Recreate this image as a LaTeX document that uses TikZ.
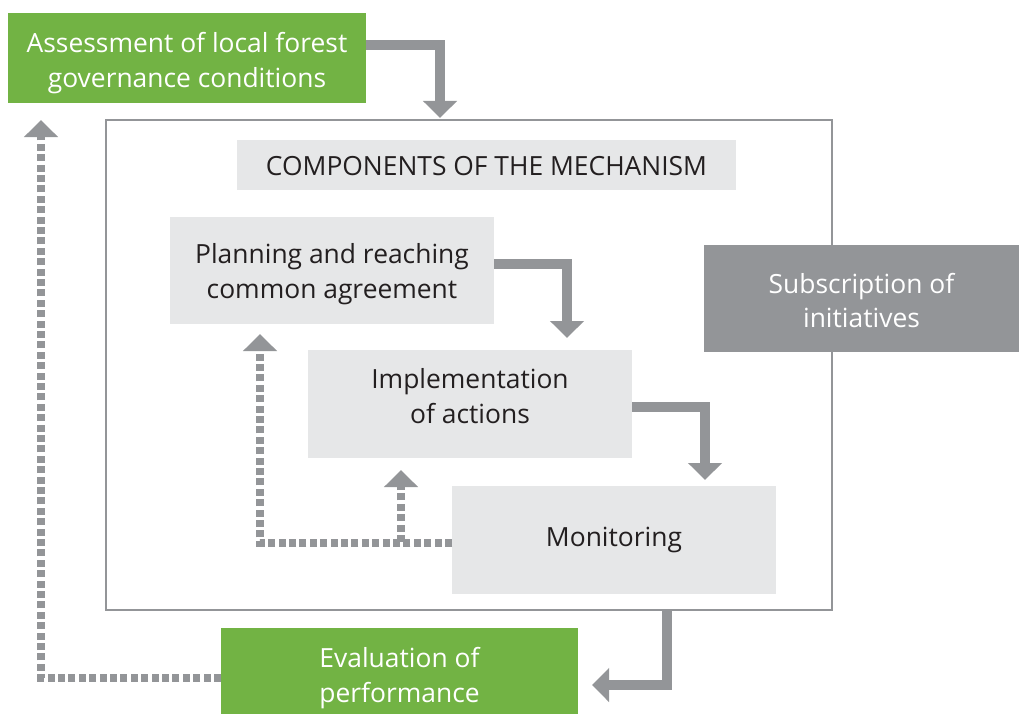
\documentclass[tikz,border=0pt]{standalone}
\usepackage{fontspec}
\setmainfont{Open Sans}
\usetikzlibrary{arrows.meta}
\definecolor{leaf}{RGB}{114,179,68}
\definecolor{pale}{RGB}{230,231,232}
\definecolor{slate}{RGB}{147,149,152}
\definecolor{ink}{RGB}{35,31,32}
\begin{document}
\begin{tikzpicture}[x=1bp,y=-1bp,
  box/.style={anchor=north west, inner sep=0pt, outer sep=0pt},
  boxtext/.style={inner sep=0pt, outer sep=0pt, align=center,
    font=\fontsize{26.5}{35}\selectfont},
  greenbox/.style={box, fill=leaf},
  palebox/.style={box, fill=pale},
  darkbox/.style={box, fill=slate},
  light/.style={boxtext, text=white},
  dark/.style={boxtext, text=ink},
  framebox/.style={anchor=north west, inner sep=0pt, outer sep=0pt, draw=slate, line width=1.8bp},
  flow/.style={draw=slate, line width=10bp, line join=miter,
    -{Triangle[width=33bp,length=17bp]}},
  feedback/.style={draw=slate, line width=8.5bp, dash pattern=on 7bp off 3.4bp,
    -{Triangle[width=33bp,length=17bp]}},
]
\useasboundingbox (0,0) rectangle (1019,714);

% outer frame of the mechanism
\node[framebox, minimum width=726bp, minimum height=490bp] (frame) at (106,120) {};

% boxes (text placed as a centred label so it can sit a little off centre)
\node[greenbox, minimum width=358bp, minimum height=90bp,
  label={[light, yshift=-5bp]center:{Assessment of local forest\\governance conditions}}]
  (assess) at (8,13) {};
\node[palebox, minimum width=499bp, minimum height=50bp,
  label={[dark, yshift=-1.5bp]center:{COMPONENTS OF THE MECHANISM}}]
  (header) at (237,140) {};
\node[palebox, minimum width=324bp, minimum height=107bp,
  label={[dark, yshift=-4bp]center:{Planning and reaching\\common agreement}}]
  (plan) at (170,217) {};
\node[palebox, minimum width=324bp, minimum height=108bp,
  label={[dark, yshift=8bp]center:{Implementation\\of actions}}]
  (impl) at (308,350) {};
\node[palebox, minimum width=324bp, minimum height=108bp,
  label={[dark]center:{Monitoring}}]
  (mon) at (452,486) {};
\node[darkbox, minimum width=315bp, minimum height=107bp,
  label={[light, yshift=-2bp]center:{Subscription of\\initiatives}}]
  (subs) at (704,245) {};
\node[greenbox, minimum width=357bp, minimum height=86bp,
  label={[light, yshift=-7bp]center:{Evaluation of\\performance}}]
  (eval) at (221,628) {};

% main flow
\draw[flow] ([yshift=13bp]assess.east) -| ([xshift=-29bp,yshift=2bp]frame.north);
\draw[flow] ([yshift=6.5bp]plan.east) -| ([xshift=97bp,yshift=12bp]impl.north);
\draw[flow] ([yshift=-3bp]impl.east) -| ([xshift=91bp,yshift=6bp]mon.north);
\draw[flow] ([xshift=198bp]frame.south) |- ([xshift=14bp,yshift=-14bp]eval.east);

% feedback loops
\draw[feedback] ([yshift=-3bp]mon.west) -| ([xshift=-72bp,yshift=-10bp]plan.south);
\draw[feedback] ([yshift=-3bp]mon.west) -| ([xshift=-69bp,yshift=-12bp]impl.south);
\draw[feedback] ([yshift=-7bp]eval.west) -| ([xshift=-146bp,yshift=-17bp]assess.south);
\end{tikzpicture}
\end{document}
